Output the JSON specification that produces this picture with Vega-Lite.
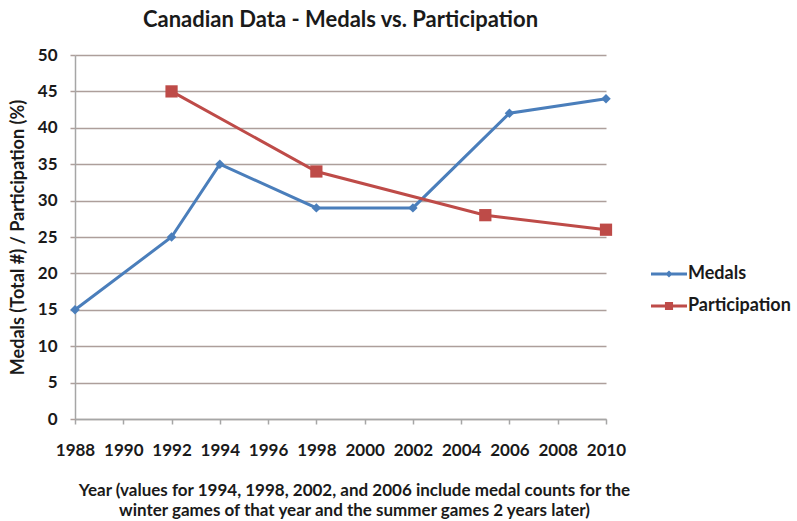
{
  "$schema": "https://vega.github.io/schema/vega-lite/v6.json",
  "autosize": "none",
  "width": 531,
  "height": 364,
  "padding": {"left": 75, "top": 55, "right": 191, "bottom": 102},
  "background": "white",
  "title": {
    "text": "Canadian Data - Medals vs. Participation",
    "font": "Lato",
    "fontSize": 22,
    "fontWeight": "bold",
    "color": "#1a1a1a",
    "anchor": "middle",
    "offset": 14
  },
  "config": {
    "view": {"stroke": null},
    "font": "Lato"
  },
  "data": {
    "values": [
      {"year": 1988, "value": 15, "series": "Medals"},
      {"year": 1992, "value": 25, "series": "Medals"},
      {"year": 1994, "value": 35, "series": "Medals"},
      {"year": 1998, "value": 29, "series": "Medals"},
      {"year": 2002, "value": 29, "series": "Medals"},
      {"year": 2006, "value": 42, "series": "Medals"},
      {"year": 2010, "value": 44, "series": "Medals"},
      {"year": 1992, "value": 45, "series": "Participation"},
      {"year": 1998, "value": 34, "series": "Participation"},
      {"year": 2005, "value": 28, "series": "Participation"},
      {"year": 2010, "value": 26, "series": "Participation"}
    ]
  },
  "encoding": {
    "x": {
      "field": "year",
      "type": "quantitative",
      "scale": {"domain": [1988, 2010], "nice": false, "zero": false},
      "axis": {
        "values": [1988, 1990, 1992, 1994, 1996, 1998, 2000, 2002, 2004, 2006, 2008, 2010],
        "format": "d",
        "grid": false,
        "domainColor": "#a6a6a6",
        "domainWidth": 1.5,
        "tickColor": "#a6a6a6",
        "tickWidth": 1.5,
        "tickSize": 5,
        "labelPadding": 18,
        "labelFont": "Lato",
        "labelFontSize": 17,
        "labelFontWeight": "bold",
        "labelColor": "#1a1a1a",
        "labelFlush": false,
        "title": ["Year (values for 1994, 1998, 2002, and 2006 include medal counts for the", "winter games of that year and the summer games 2 years later)"],
        "titleFont": "Lato",
        "titleFontSize": 17,
        "titleFontWeight": "bold",
        "titleColor": "#1a1a1a",
        "titleLineHeight": 20,
        "titlePadding": 24,
        "titleX": 279
      }
    },
    "y": {
      "field": "value",
      "type": "quantitative",
      "scale": {"domain": [0, 50], "nice": false},
      "axis": {
        "values": [0, 5, 10, 15, 20, 25, 30, 35, 40, 45, 50],
        "grid": true,
        "gridColor": "#ad9f9b",
        "gridWidth": 1.5,
        "domainColor": "#a6a6a6",
        "domainWidth": 1.5,
        "tickColor": "#ad9f9b",
        "tickWidth": 1.5,
        "tickSize": 5,
        "labelPadding": 13,
        "labelFont": "Lato",
        "labelFontSize": 17,
        "labelFontWeight": "bold",
        "labelColor": "#1a1a1a",
        "title": "Medals (Total #) / Participation (%)",
        "titleFont": "Lato",
        "titleFontSize": 18,
        "titleFontWeight": "bold",
        "titleColor": "#1a1a1a",
        "titlePadding": 10
      }
    },
    "color": {
      "field": "series",
      "type": "nominal",
      "scale": {"domain": ["Medals", "Participation"], "range": ["#4a7ebb", "#be4b48"]},
      "legend": {
        "title": null,
        "orient": "none",
        "legendX": 579,
        "legendY": 204,
        "padding": 0,
        "rowPadding": 8,
        "symbolSize": 900,
        "symbolStrokeWidth": 0,
        "labelOffset": 4,
        "labelFont": "Lato",
        "labelFontSize": 18,
        "labelFontWeight": "bold",
        "labelColor": "#1a1a1a",
        "encode": {
          "symbols": {
            "update": {
              "shape": {"signal": "datum.value == 'Medals' ? 'M-1.2,-0.1H1.2V0.1H-1.2Z M0,-0.24L0.24,0L0,0.24L-0.24,0Z' : 'M-1.2,-0.1H1.2V0.1H-1.2Z M-0.27,-0.27H0.27V0.27H-0.27Z'"},
              "size": {"value": 900},
              "fill": {"signal": "datum.value == 'Medals' ? '#4a7ebb' : '#be4b48'"},
              "fillOpacity": {"value": 1},
              "strokeWidth": {"value": 0},
              "opacity": {"value": 1}
            }
          }
        }
      }
    }
  },
  "layer": [
    {
      "mark": {"type": "line", "strokeWidth": 3}
    },
    {
      "mark": {"type": "point", "filled": true, "opacity": 1},
      "encoding": {
        "shape": {
          "condition": {"test": "datum.series == 'Medals'", "value": "diamond"},
          "value": "square"
        },
        "size": {
          "condition": {"test": "datum.series == 'Medals'", "value": 90},
          "value": 150
        }
      }
    }
  ]
}
